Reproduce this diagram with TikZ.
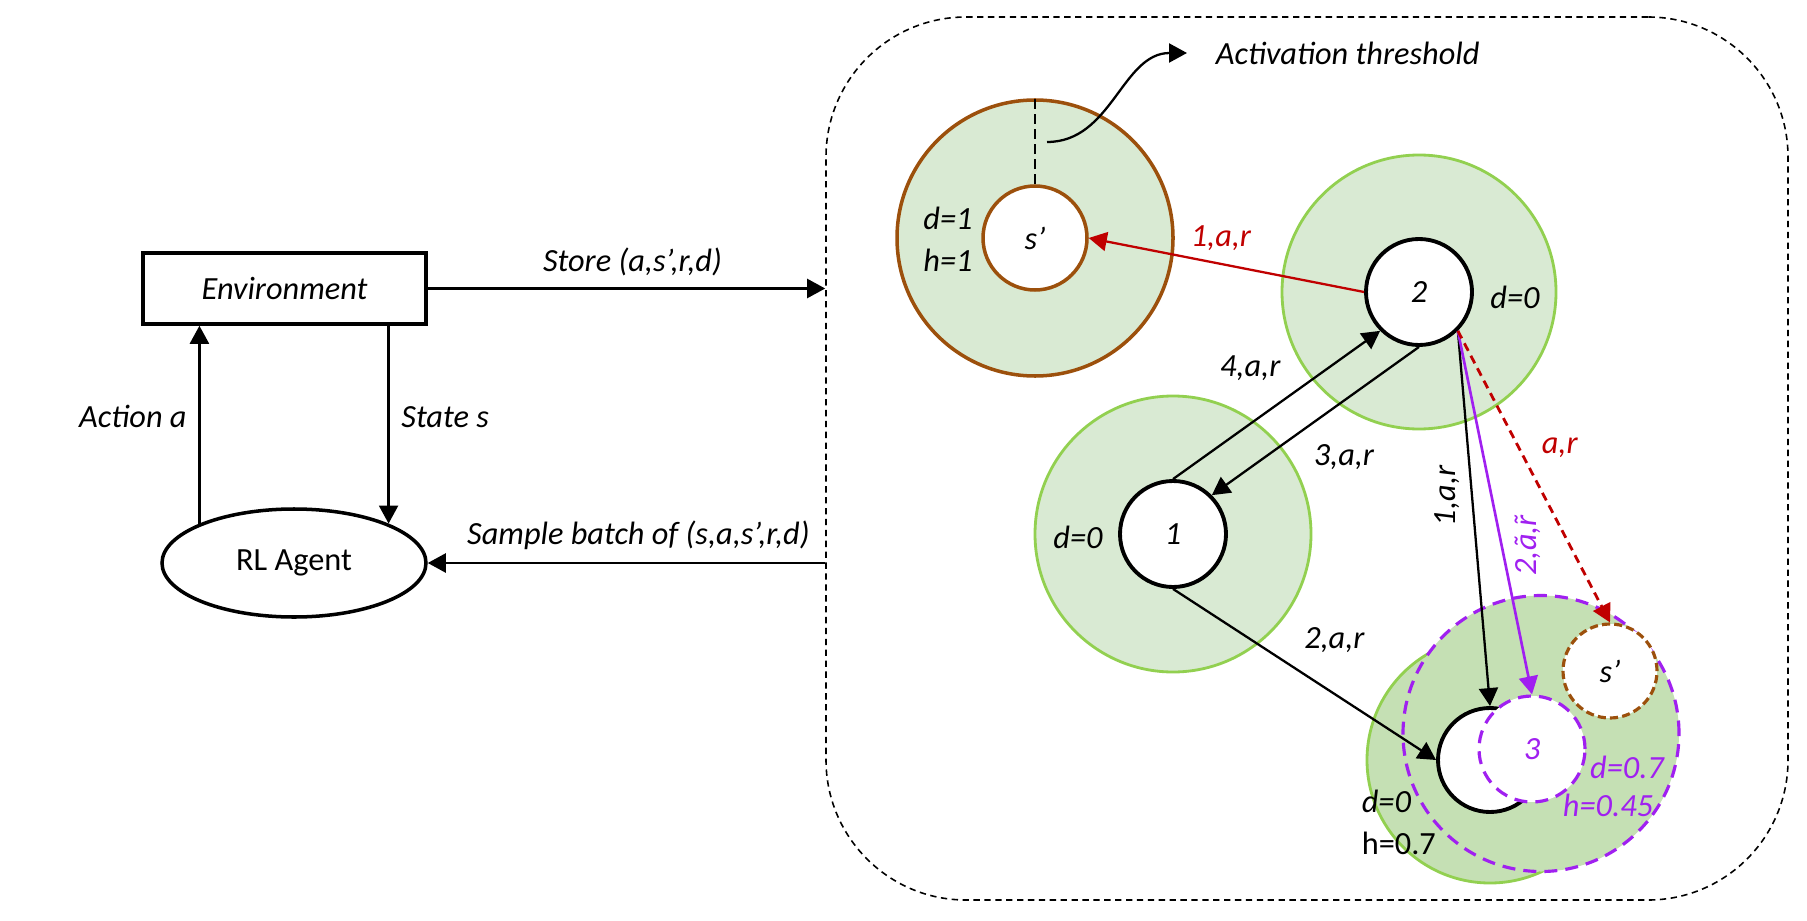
\documentclass[tikz,border=0pt]{standalone}
\usepackage{fontspec}
\setmainfont{Carlito}
\usepackage{tikz}
\usetikzlibrary{arrows.meta,shapes.geometric}
\definecolor{zonefill}{HTML}{D9EAD3}
\definecolor{zoneline}{HTML}{92D050}
\definecolor{mergefill}{HTML}{C5E0B4}
\definecolor{brownline}{RGB}{156,80,12}
\definecolor{darkred}{HTML}{C00000}
\definecolor{sampleviolet}{HTML}{A020F0}
\newcommand{\tildeof}[1]{\accent"02DC #1}

\begin{document}
\begin{tikzpicture}[
	font=\fontsize{9.2}{12}\selectfont\itshape,
	>={Triangle[length=1.8mm,width=1.9mm]},
	line width=0.65pt,
	zone/.style={circle,draw=zoneline,fill=zonefill,line width=0.8pt,minimum size=#1,inner sep=0pt},
	statenode/.style={circle,draw,fill=white,line width=1.1pt,minimum size=1.06cm,inner sep=0pt},
	violetdash/.style={dash pattern=on 3.7pt off 2.3pt,line width=0.9pt},
	browndash/.style={dash pattern=on 2.3pt off 1.2pt,line width=0.9pt}
	]
	\useasboundingbox (0,0) rectangle (18.07,9.20);

	\node[draw,line width=1pt,minimum width=2.83cm,minimum height=0.71cm] (env) at (2.845,6.315){Environment};
	\node[ellipse,draw,line width=1pt,minimum width=2.64cm,minimum height=1.08cm,inner sep=0pt] (agent) at (2.94,3.57){\upshape RL Agent};
	\node[draw,line width=0.45pt,dash pattern=on 1.8pt off 1.3pt,rounded corners=1.4cm,minimum width=9.62cm,minimum height=8.83cm] (buffer) at (13.07,4.615){};

	\draw[->] (env.east)--node[above,pos=0.515]{Store (a,s’,r,d)}(buffer.west |- env.east);
	\draw[->] (buffer.west |- agent.east)--node[above,pos=0.47]{Sample batch of (s,a,s’,r,d)}(agent.east);
	\draw[->] (agent.north west)--node[left,pos=0.54]{Action a}(agent.north west |- env.south);
	\draw[->] (env.south -| agent.north east)--node[right,pos=0.46]{State s}(agent.north east);

	\node[zone=2.76cm,draw=brownline,line width=1pt] (spzone) at (10.35,6.82){};
	\node[zone=2.74cm] (z2) at (14.19,6.28){};
	\node[zone=2.76cm] (z1) at (11.73,3.86){};
	\node[zone=2.46cm,fill=mergefill] (z3) at (14.90,1.60){};
	\node[zone=2.76cm,fill=mergefill,draw=sampleviolet,violetdash] (z3new) at (15.41,1.865){};

	\node[align=center] (splbl) at (9.48,6.81){d=1\\h=1};
	\node (z2lbl) at (15.15,6.23){d=0};
	\node (z1lbl) at (10.78,3.83){d=0};
	\node[anchor=west,align=left] (z3lbl) at (13.49,0.98){d=0\\{\upshape h=0.7}};
	\node[sampleviolet] (z3dlbl) at (16.27,1.53){d=0.7};
	\node[sampleviolet] (z3hlbl) at (16.08,1.15){h=0.45};

	\node[statenode,draw=brownline,line width=1pt,minimum size=1.04cm] (sp) at (10.35,6.82){s’};
	\node[statenode] (n2) at (14.19,6.28){2};
	\node[statenode] (n1) at (11.73,3.86){1};
	\node[statenode,minimum size=1.04cm] (n3) at (14.90,1.60){};
	\node[statenode,draw=sampleviolet,violetdash,text=sampleviolet] (n3new) at (15.32,1.71){3};
	\node[statenode,draw=brownline,browndash,minimum size=0.94cm] (spnew) at (16.10,2.49){s’};

	\draw[dash pattern=on 2.8pt off 1.5pt,line width=0.7pt] (sp.north)--(spzone.north);
	\coordinate (thrstart) at (10.47,7.78);
	\node[anchor=west] (thr) at (12.03,8.67){Activation threshold};
	\draw[->] (thrstart) to[out=0,in=180] ([xshift=-1.6mm]thr.west);

	\draw[->,darkred] (n2.west)--node[above,pos=0.52]{1,a,r}(sp.east);
	\draw[->] (n1.north)--node[above left,pos=0.58]{4,a,r}(n2.225);
	\draw[->] (n2.south)--node[below right,pos=0.57]{3,a,r}(n1.45);
	\draw[->] (n1.south)--node[above right,pos=0.45]{2,a,r}(n3.west);
	\draw[->] (n2.-45)--node[above,rotate=90,pos=0.44]{1,a,r}(n3.north);
	\draw[->,sampleviolet,line width=0.75pt] (n2.-45)--node[below,rotate=90,pos=0.59]{2,ã,\tildeof{r}}(n3new.north);
	\draw[->,darkred,dash pattern=on 2.4pt off 1.6pt,line width=0.8pt] (n2.-45)--node[right=1mm,pos=0.4]{a,r}(spnew.north);
\end{tikzpicture}
\end{document}
